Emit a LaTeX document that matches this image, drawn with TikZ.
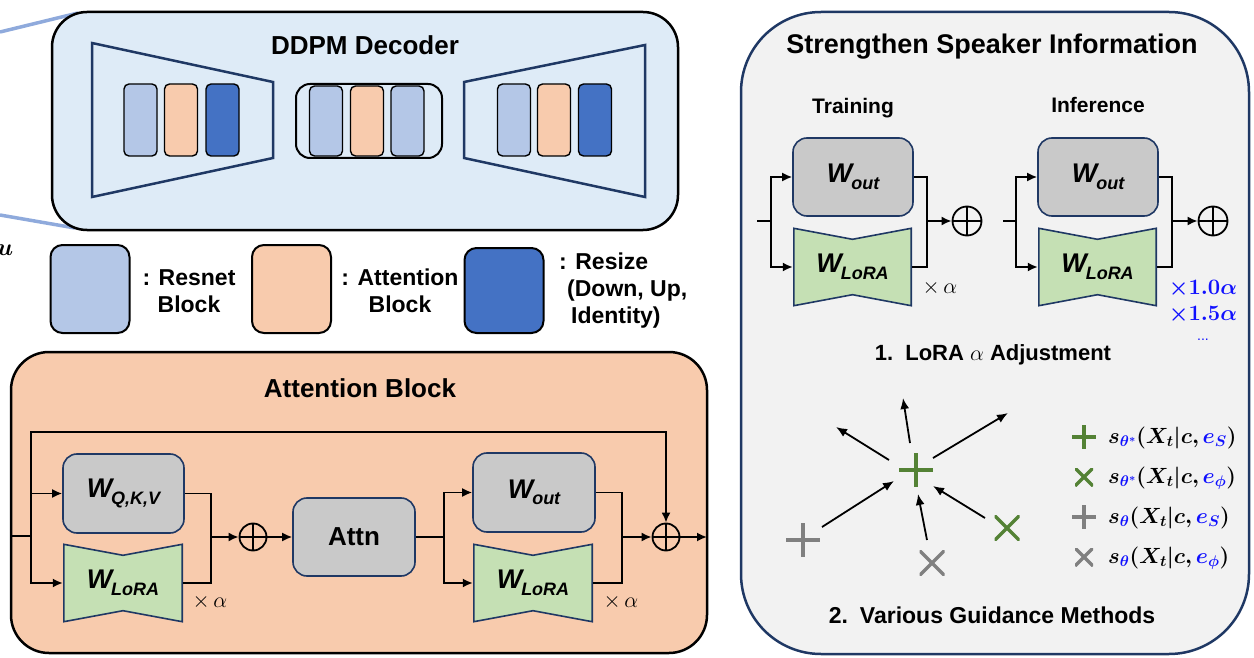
\RequirePackage{fix-cm}
\documentclass[tikz,border=0pt]{standalone}
\usepackage{amsmath,bm}
\usepackage[no-math]{fontspec}
\setmainfont{Liberation Sans}
\usetikzlibrary{arrows.meta,calc}
\definecolor{ddpmbg}{HTML}{DEEBF7}
\definecolor{resnetc}{HTML}{B4C7E7}
\definecolor{attnc}{HTML}{F8CBAD}
\definecolor{resizec}{HTML}{4472C4}
\definecolor{grayfill}{HTML}{C9C9C9}
\definecolor{lorafill}{HTML}{C5E0B4}
\definecolor{navy}{HTML}{1F3864}
\definecolor{panelc}{HTML}{F2F2F2}
\definecolor{mkgreen}{HTML}{548235}
\definecolor{mkgray}{HTML}{808080}
\definecolor{lineblue}{HTML}{8FAADC}
\definecolor{txtblue}{HTML}{1010FF}
\newcommand{\Wlab}[1]{{\fontsize{27}{27}\selectfont\bfseries\itshape W\kern-1pt\raisebox{-6.5pt}{\fontsize{18}{18}\selectfont #1}}}
\tikzset{
  arr/.style={-{Latex[length=10pt,width=9pt]}},
  wire/.style={line width=1.8pt, draw=black},
  blk/.style={draw=black, line width=1.4pt, rounded corners=5pt, minimum width=33pt, minimum height=72pt, inner sep=0pt},
  gbox/.style={draw=navy, fill=grayfill, line width=1.6pt, rounded corners=14pt, minimum width=121pt, minimum height=79pt, inner sep=0pt},
  bownode/.style={minimum width=120pt, minimum height=79pt, inner sep=0pt,
    path picture={\draw[draw=navy, fill=lorafill, line width=1.6pt]
      ([xshift=.8pt,yshift=-.8pt]path picture bounding box.north west) --
      ([yshift=-11.8pt]path picture bounding box.north) --
      ([xshift=-.8pt,yshift=-.8pt]path picture bounding box.north east) --
      ([xshift=-.8pt,yshift=.8pt]path picture bounding box.south east) --
      ([yshift=11.8pt]path picture bounding box.south) --
      ([xshift=.8pt,yshift=.8pt]path picture bounding box.south west) -- cycle;}},
  oplus/.style={circle, draw=black, line width=1.8pt, minimum size=27pt, inner sep=0pt,
    path picture={\draw[line width=1.8pt] (path picture bounding box.north) -- (path picture bounding box.south)
      (path picture bounding box.west) -- (path picture bounding box.east);}},
  plusmk/.style n args={2}{minimum size=#2, inner sep=0pt,
    path picture={\draw[line width=3.5pt, #1] (path picture bounding box.north) -- (path picture bounding box.south)
      (path picture bounding box.west) -- (path picture bounding box.east);}},
  crossmk/.style n args={2}{minimum size=#2, inner sep=0pt,
    path picture={\draw[line width=3.5pt, #1] (path picture bounding box.north west) -- (path picture bounding box.south east)
      (path picture bounding box.north east) -- (path picture bounding box.south west);}},
  titletxt/.style={font=\fontsize{26}{30}\selectfont\bfseries, inner sep=0pt},
  subtxt/.style={font=\fontsize{21}{25}\selectfont\bfseries, inner sep=0pt},
  legtxt/.style={font=\fontsize{23}{27}\selectfont\bfseries, inner sep=0pt, align=center},
  alphatxt/.style={font=\fontsize{22}{26}\selectfont, inner sep=0pt},
  mathtxt/.style={font=\fontsize{22}{26}\selectfont, inner sep=0pt, anchor=west},
  legbox/.style={draw=black, line width=2pt, rounded corners=12pt, minimum width=79pt, minimum height=88pt, inner sep=0pt},
  guide/.style={line width=1.8pt, -{Latex[length=11pt,width=9pt]}}
}
\begin{document}
\begin{tikzpicture}[x=1pt,y=-1pt]
\useasboundingbox (0,0) rectangle (1254,658);

% ---------- lines from the left ----------
\coordinate (la1) at (0,32);
\coordinate (la2) at (78,13);
\coordinate (lb1) at (0,215);
\coordinate (lb2) at (75,228);
\draw[lineblue, line width=3.5pt] (la1) -- (la2);
\draw[lineblue, line width=3.5pt] (lb1) -- (lb2);
\node[font=\fontsize{24}{24}\selectfont, inner sep=0pt] (uvar) at (5,250) {$\bm{u}$};

% ---------- DDPM decoder ----------
\node[draw=black, line width=2.5pt, fill=ddpmbg, rounded corners=35pt, minimum width=626pt, minimum height=218pt] (ddpm) at (365,121) {};
\node[titletxt] (ddpmt) at (365,45) {DDPM Decoder};
\draw[navy, line width=2.5pt] (92,43) -- (273,82) -- (273,158) -- (92,197) -- cycle;
\draw[navy, line width=2.5pt] (464,82) -- (645,45) -- (645,197) -- (464,158) -- cycle;
\node[blk, fill=resnetc] (l1) at (140.5,120) {};
\node[blk, fill=attnc]   (l2) at (181,120) {};
\node[blk, fill=resizec] (l3) at (222.5,120) {};
\node[draw=black, line width=2pt, rounded corners=14pt, minimum width=146pt, minimum height=74pt] (mid) at (369,121) {};
\node[blk, fill=resnetc, minimum height=70pt] (m1) at (326,121) {};
\node[blk, fill=attnc, minimum height=70pt]   (m2) at (367,121) {};
\node[blk, fill=resnetc, minimum height=70pt] (m3) at (407.5,121) {};
\node[blk, fill=resnetc] (r1) at (514,120) {};
\node[blk, fill=attnc]   (r2) at (554,120) {};
\node[blk, fill=resizec] (r3) at (595,120) {};

% ---------- legend ----------
\node[legbox, fill=resnetc] (lg1) at (90,289) {};
\node[legtxt] (lg1t) at (189,291) {: Resnet\\Block};
\node[legbox, fill=attnc] (lg2) at (291.5,289) {};
\node[legtxt] (lg2t) at (400,291) {: Attention\\Block};
\node[legbox, fill=resizec, minimum height=85pt] (lg3) at (504,290.5) {};
\node[legtxt, align=left, anchor=west] (lg3t) at (559,291) {: Resize\\\hspace*{8pt}(Down, Up,\\\hspace*{12pt}Identity)};

% ---------- Attention block ----------
\node[draw=black, line width=2.5pt, fill=attnc, rounded corners=38pt, minimum width=696pt, minimum height=301pt] (ab) at (359,502.5) {};
\node[titletxt] (abt) at (360,388) {Attention Block};
\node[gbox] (qkv) at (123.5,493.5) {\Wlab{Q,K,V}};
\node[bownode] (lora1) at (123,583) {\raisebox{-4pt}{\Wlab{LoRA}}};
\node[oplus] (sum1) at (253,537) {};
\node[gbox, minimum width=122pt, minimum height=78pt] (attn) at (354,537) {\fontsize{26}{26}\selectfont\bfseries Attn};
\node[gbox, minimum width=122pt] (wout1) at (534,492.5) {\Wlab{out}};
\node[bownode] (lora2) at (533,583) {\raisebox{-4pt}{\Wlab{LoRA}}};
\node[oplus] (sum2) at (666,537) {};
\node[alphatxt] (al1) at (210,602) {$\times\,\alpha$};
\node[alphatxt] (al2) at (621,602) {$\times\,\alpha$};
\coordinate (in1) at (12,536);
\coordinate (sp1) at (31,536);
\coordinate (toprow) at (0,432);
\coordinate (mg1) at (211,537);
\coordinate (sp2) at (444,537);
\coordinate (mg2) at (622,537);
\coordinate (out1) at (707,537);
\draw[wire] (in1) -- (sp1);
\draw[wire, arr] (sp1) |- (qkv.west);
\draw[wire, arr] (sp1) |- (lora1.west);
\draw[wire, arr] (sp1) -- (sp1 |- toprow) -| (sum2.north);
\draw[wire] (qkv.east) -| (mg1);
\draw[wire] (lora1.east) -| (mg1);
\draw[wire, arr] (mg1) -- (sum1.west);
\draw[wire, arr] (sum1.east) -- (attn.west);
\draw[wire] (attn.east) -- (sp2);
\draw[wire, arr] (sp2) |- (wout1.west);
\draw[wire, arr] (sp2) |- (lora2.west);
\draw[wire] (wout1.east) -| (mg2);
\draw[wire] (lora2.east) -| (mg2);
\draw[wire, arr] (mg2) -- (sum2.west);
\draw[wire, arr] (sum2.east) -- (out1);

% ---------- Right panel ----------
\node[draw=navy, line width=2.5pt, fill=panelc, rounded corners=80pt, minimum width=508pt, minimum height=642pt] (panel) at (995,333) {};
\node[titletxt, font=\fontsize{27}{31}\selectfont\bfseries] (pt) at (992,47) {Strengthen Speaker Information};
\node[subtxt] (train) at (853,108) {Training};
\node[subtxt] (infer) at (1098,105) {Inference};

\node[gbox, minimum width=120pt, minimum height=78pt] (wout2) at (853,177) {\Wlab{out}};
\node[bownode, minimum width=119pt] (lora3) at (852.5,267) {\raisebox{-4pt}{\Wlab{LoRA}}};
\node[oplus, minimum size=29pt] (sum3) at (967,221) {};
\node[alphatxt] (al3) at (940,288) {$\times\,\alpha$};
\coordinate (in3) at (757,221);
\coordinate (sp3) at (771,221);
\coordinate (mg3) at (927,221);
\draw[wire] (in3) -- (sp3);
\draw[wire, arr] (sp3) |- (wout2.west);
\draw[wire, arr] (sp3) |- (lora3.west);
\draw[wire] (wout2.east) -| (mg3);
\draw[wire] (lora3.east) -| (mg3);
\draw[wire, arr] (mg3) -- (sum3.west);

\node[gbox, minimum width=120pt, minimum height=78pt] (wout3) at (1098,177) {\Wlab{out}};
\node[bownode, minimum width=119pt] (lora4) at (1097.5,267) {\raisebox{-4pt}{\Wlab{LoRA}}};
\node[oplus, minimum size=29pt] (sum4) at (1213,221) {};
\coordinate (in4) at (1003,221);
\coordinate (sp4) at (1016,221);
\coordinate (mg4) at (1172,221);
\draw[wire] (in4) -- (sp4);
\draw[wire, arr] (sp4) |- (wout3.west);
\draw[wire, arr] (sp4) |- (lora4.west);
\draw[wire] (wout3.east) -| (mg4);
\draw[wire] (lora4.east) -| (mg4);
\draw[wire, arr] (mg4) -- (sum4.west);
\node[alphatxt, text=txtblue] (bl1) at (1203,289) {$\bm{\times 1.0\alpha}$};
\node[alphatxt, text=txtblue] (bl2) at (1203,315) {$\bm{\times 1.5\alpha}$};
\node[font=\fontsize{14}{14}\selectfont, text=txtblue, inner sep=0pt] (bl3) at (1203,340) {...};
\node[font=\fontsize{22}{26}\selectfont\bfseries, inner sep=0pt] (h1) at (993,355) {1.\hspace{12pt}LoRA $\alpha$ Adjustment};

% ---------- guidance ----------
\node[plusmk={mkgreen}{34pt}] (cg) at (916,470) {};
\node[plusmk={mkgray}{34pt}] (gp) at (803,540) {};
\node[crossmk={mkgray}{25pt}] (gx) at (932,563) {};
\node[crossmk={mkgreen}{25pt}] (grx) at (1007,528) {};
\coordinate (o1a) at (910,443); \coordinate (o1b) at (903,398);
\coordinate (o2a) at (889,460); \coordinate (o2b) at (836,427);
\coordinate (o3a) at (933,458); \coordinate (o3b) at (1008,413);
\coordinate (i1a) at (822,527); \coordinate (i1b) at (894,481);
\coordinate (i2a) at (927,540); \coordinate (i2b) at (918,494);
\coordinate (i3a) at (985,518); \coordinate (i3b) at (933,486);
\draw[guide] (o1a) -- (o1b);
\draw[guide] (o2a) -- (o2b);
\draw[guide] (o3a) -- (o3b);
\draw[guide] (i1a) -- (i1b);
\draw[guide] (i2a) -- (i2b);
\draw[guide] (i3a) -- (i3b);

\node[plusmk={mkgreen}{24pt}] (k1) at (1084,437) {};
\node[crossmk={mkgreen}{18pt}] (k2) at (1084,477) {};
\node[plusmk={mkgray}{24pt}] (k3) at (1084,517) {};
\node[crossmk={mkgray}{18pt}] (k4) at (1084,557) {};
\node[mathtxt] (t1) at (1108,438) {$\bm{s}_{\color{txtblue}\bm{\theta^*}}\bm{(X_t|c,}{\color{txtblue}\bm{e_S}}\bm{)}$};
\node[mathtxt] (t2) at (1108,478) {$\bm{s}_{\color{txtblue}\bm{\theta^*}}\bm{(X_t|c,}{\color{txtblue}\bm{e_\phi}}\bm{)}$};
\node[mathtxt] (t3) at (1108,518) {$\bm{s}_{\color{txtblue}\bm{\theta}}\bm{(X_t|c,}{\color{txtblue}\bm{e_S}}\bm{)}$};
\node[mathtxt] (t4) at (1108,558) {$\bm{s}_{\color{txtblue}\bm{\theta}}\bm{(X_t|c,}{\color{txtblue}\bm{e_\phi}}\bm{)}$};
\node[font=\fontsize{23}{27}\selectfont\bfseries, inner sep=0pt] (h2) at (992,615) {2.\hspace{12pt}Various Guidance Methods};
\end{tikzpicture}
\end{document}
